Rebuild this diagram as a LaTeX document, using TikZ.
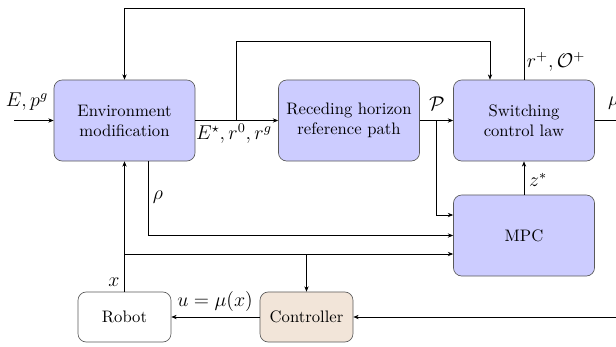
\documentclass[tikz,border=0pt]{standalone}
\usetikzlibrary{arrows.meta}
\begin{document}
\begin{tikzpicture}[x=0.601pt,y=-0.601pt,
  blk/.style={draw=black!65,fill=blue!20,rounded corners=5pt,align=center,
    minimum width=84.8pt,minimum height=48.7pt,inner sep=0pt},
  small/.style={draw=black!65,rounded corners=5pt,align=center,
    minimum width=55.9pt,minimum height=30.1pt,inner sep=0pt},
  sig/.style={-{Stealth[length=3.2pt,width=2.6pt]}},
  lbl/.style={inner sep=1pt,font=\large}]
\useasboundingbox (0,0) rectangle (616,346);

% blocks
\node[blk] (env) at (124.5,120.5) {Environment\\modification};
\node[blk] (rhp) at (349,120.5) {Receding horizon\\reference path};
\node[blk] (scl) at (524,120.5) {Switching\\control law};
\node[blk] (mpc) at (524,235.5) {MPC};
\node[small] (robot) at (124.5,317) {Robot};
\node[small,fill=brown!20] (ctrl) at (306.5,317) {Controller};

% free ends and corner points
\coordinate (in) at (14,120.5);
\coordinate (out) at (616,120.5);
\coordinate (uin) at (616,317);
\coordinate (br1) at (236,120.5);
\coordinate (br2) at (436,120.5);
\coordinate (xb) at (124.5,254);
\coordinate (xc) at (306.5,254);

% main chain
\draw[sig] (in) -- (env.west);
\draw[sig] (env.east) -- (rhp.west);
\draw[sig] (rhp.east) -- (scl.west);
\draw (scl.east) -- (out);

% reference data to switching law
\draw[sig] (br1) |- (490,41) -- (490,41 |- scl.north);
% feedback to environment modification
\draw[sig] (scl.north) |- (124.5,8) -- (env.north);

% path to MPC
\draw[sig] (br2) |- (mpc.west |- 0,215);
% rho to MPC
\draw[sig] (148,161 |- env.south) |- (mpc.west |- 0,235.5);
% MPC output
\draw[sig] (mpc.north) -- (scl.south);

% state feedback
\draw[sig] (robot.north) -- (env.south);
\draw[sig] (xb) -- (mpc.west |- xb);
\draw[sig] (xc) -- (ctrl.north);

% control loop
\draw[sig] (ctrl.west) -- (robot.east);
\draw[sig] (uin) -- (ctrl.east);

% labels
\node[lbl] at (27,102) {$E,p^g$};
\node[lbl] at (234,134) {$E^\star,r^0,r^g$};
\node[lbl] at (437,104) {$\mathcal{P}$};
\node[lbl,anchor=west] at (606,103) {$\mu$};
\node[lbl] at (556,62) {$r^+,\mathcal{O}^+$};
\node[lbl] at (538,180) {$z^*$};
\node[lbl] at (158,197) {$\rho$};
\node[lbl] at (114,282) {$x$};
\node[lbl] at (215,301) {$u=\mu(x)$};
\end{tikzpicture}
\end{document}
